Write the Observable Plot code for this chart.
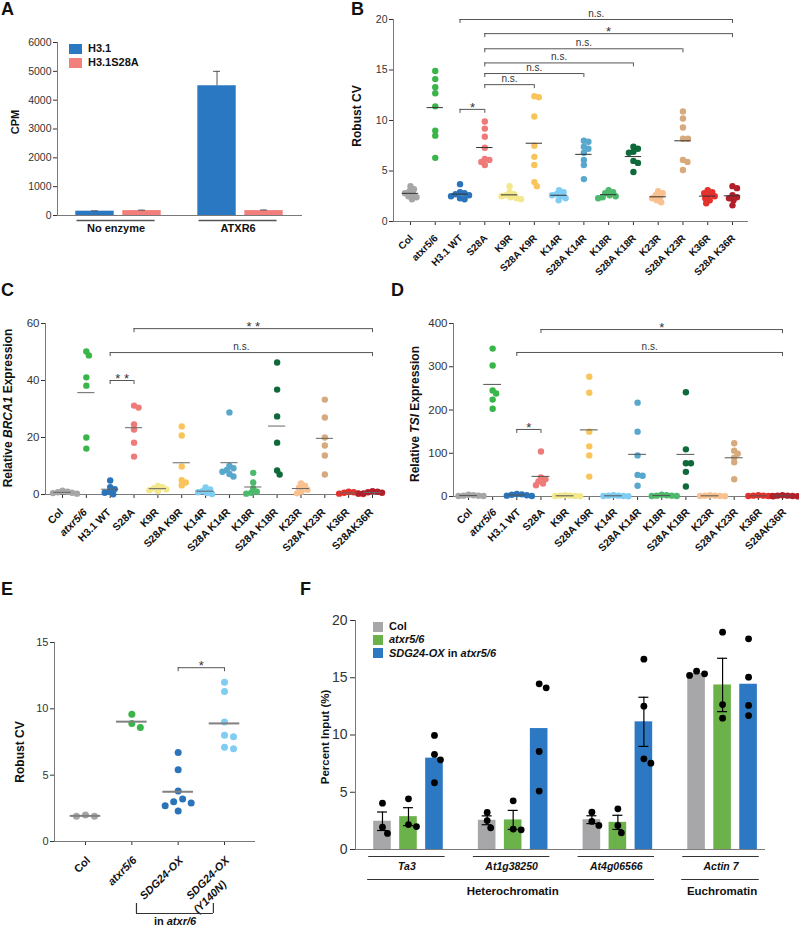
<!DOCTYPE html>
<html><head><meta charset="utf-8">
<script src="https://cdn.jsdelivr.net/npm/d3@7"></script>
<script src="https://cdn.jsdelivr.net/npm/@observablehq/plot@0.6"></script>
<style>
body{margin:0;background:#fff;}
#fig{position:relative;width:799px;height:926px;overflow:hidden;font-family:"Liberation Sans",Arial,Helvetica,sans-serif;color:#111;}
.pane{position:absolute;}
.pane svg{display:block;max-width:none;background:transparent;}
.plab{position:absolute;font-weight:bold;font-size:18px;line-height:1;}
.ylab{position:absolute;font-weight:bold;font-size:12px;white-space:nowrap;line-height:1;transform:translate(-50%,-50%) rotate(-90deg);}
.leg{position:absolute;font-weight:bold;font-size:11px;line-height:1;display:flex;align-items:center;white-space:nowrap;}
.leg .sw{display:inline-block;margin-right:6px;}
.note{position:absolute;font-weight:bold;font-size:11px;white-space:nowrap;line-height:1;transform:translateX(-50%);}
</style></head><body><div id="fig"></div>
<script>
// ================= DATA =================
// Panel A
const aGroups = ["No enzyme", "ATXR6"];
const aSeries = ["H3.1", "H3.1S28A"];
const aCPM = [[150, 170], [4500, 170]];
const aCPMerr = [[10, 15], [500, 20]];

// Panel B
const bCats = ["Col","atxr5/6","H3.1 WT","S28A","K9R","S28A K9R","K14R","S28A K14R","K18R","S28A K18R","K23R","S28A K23R","K36R","S28A K36R"];
const bRobustCV = [
  [3.5, 3.2, 3.0, 2.8, 2.7, 2.5, 2.4, 2.2],
  [14.9, 14.1, 13.3, 12.7, 11.4, 9.0, 8.5, 6.3],
  [3.7, 2.9, 2.8, 2.7, 2.6, 2.5, 2.3, 2.2],
  [9.9, 9.2, 8.4, 7.3, 6.2, 6.1, 5.9, 5.6],
  [3.5, 2.9, 2.7, 2.6, 2.5, 2.4, 2.3, 2.2],
  [12.4, 12.3, 10.4, 7.5, 6.4, 5.6, 3.9, 3.5],
  [3.1, 2.9, 2.7, 2.6, 2.5, 2.3, 2.1],
  [8.0, 7.9, 7.4, 7.2, 6.8, 6.1, 5.6, 4.2],
  [3.1, 2.9, 2.8, 2.6, 2.5, 2.4, 2.3],
  [7.4, 7.2, 6.9, 6.8, 6.0, 5.8, 4.9],
  [3.0, 2.8, 2.6, 2.4, 2.3, 2.1, 1.9],
  [10.9, 10.2, 9.3, 8.2, 8.2, 6.1, 5.9, 5.1],
  [3.1, 2.9, 2.8, 2.6, 2.5, 2.3, 2.1, 1.8],
  [3.5, 3.3, 2.6, 2.4, 2.3, 2.1, 1.6]
];
const bBracketFrom = [2, 3, 3, 3, 3, 3, 2];
const bBracketTo   = [13, 13, 11, 9, 7, 5, 3];
const bBracketY    = [20.0, 18.6, 17.1, 15.7, 14.65, 13.55, 11.1];
const bBracketText = ["n.s.", "*", "n.s.", "n.s.", "n.s.", "n.s.", "*"];

// Panels C and D
const cdCats = ["Col","atxr5/6","H3.1 WT","S28A","K9R","S28A K9R","K14R","S28A K14R","K18R","S28A K18R","K23R","S28A K23R","K36R","S28AK36R"];
const cBRCA1 = [
  [1.3, 1.0, 0.8, 0.6, 0.5, 0.3],
  [50.2, 48.8, 41.1, 38.2, 20.0, 16.1],
  [4.9, 2.6, 1.9, 1.0, 0.6, 0.1],
  [31.2, 30.5, 24.6, 22.8, 18.2, 13.3],
  [3.0, 2.6, 2.2, 1.8, 1.5, 1.2],
  [23.9, 20.7, 9.8, 5.0, 4.2, 3.2],
  [2.5, 1.8, 1.2, 0.8, 0.5, 0.2],
  [28.8, 10.0, 9.2, 8.6, 8.0, 7.2, 6.3],
  [7.6, 4.2, 2.1, 1.0, 0.6, 0.3],
  [46.3, 36.8, 27.4, 18.2, 8.4, 7.0],
  [3.9, 3.1, 2.4, 1.7, 1.0, 0.4],
  [33.3, 27.0, 20.0, 17.2, 13.7, 7.0],
  [1.0, 0.8, 0.6, 0.4, 0.3, 0.2],
  [1.2, 1.0, 0.8, 0.6, 0.4, 0.3]
];
const cBracketFrom = [3, 2, 2];
const cBracketTo   = [13, 13, 3];
const cBracketY    = [58.2, 49.8, 40.0];
const cBracketText = ["* *", "n.s.", "* *"];

const dTSI = [
  [4, 3, 2, 2, 1, 1],
  [342, 303, 245, 238, 224, 203],
  [6, 5, 4, 3, 2, 1],
  [104, 44, 40, 35, 30, 26],
  [3, 2, 2, 1, 1, 0.5],
  [277, 240, 150, 116, 95, 46],
  [3, 2, 2, 1, 1, 0.5],
  [217, 150, 95, 50, 48, 25],
  [4, 3, 2, 2, 1, 1],
  [241, 109, 77, 77, 57, 23],
  [3, 2, 2, 1, 1, 0.5],
  [123, 106, 99, 90, 79, 40],
  [3, 2, 2, 1, 1, 0.5],
  [3, 2, 2, 1, 1, 0.5]
];
const dBracketFrom = [3, 2, 2];
const dBracketTo   = [13, 13, 3];
const dBracketY    = [386, 333, 155];
const dBracketText = ["*", "n.s.", "*"];

// Panel E
const eCats = ["Col", "atxr5/6", "SDG24-OX", "SDG24-OX (Y140N)"];
const eRobustCV = [
  [2.0, 1.9, 1.9],
  [9.6, 8.9, 8.6],
  [6.7, 5.4, 3.8, 3.2, 3.0, 2.9, 2.7, 2.3],
  [12.0, 11.3, 9.0, 8.0, 7.9, 7.1, 7.0]
];
const eBracketFrom = [2];
const eBracketTo   = [3];
const eBracketY    = [13.1];
const eBracketText = ["*"];

// Panel F
const fGenes = ["Ta3", "At1g38250", "At4g06566", "Actin 7"];
const fSeries = ["Col", "atxr5/6", "SDG24-OX in atxr5/6"];
const fPercentInput = [
  [[4.05, 1.95, 1.40], [4.43, 2.18, 2.00], [9.96, 8.30, 7.83, 5.83]],
  [[3.23, 2.53, 1.89], [4.25, 1.78, 1.72], [14.47, 14.12, 8.56, 5.10]],
  [[3.26, 2.45, 2.10], [3.55, 2.10, 1.46], [16.62, 12.52, 7.92, 7.54]],
  [[15.57, 15.34, 15.20], [18.98, 12.66, 11.47], [18.40, 15.05, 12.58, 11.70]]
];
const fErrorShown = [[true, true, false], [true, true, false], [true, true, true], [false, true, false]];
const fRegions = ["Heterochromatin", "Euchromatin"];
const fRegionFirstGene = [0, 3];
const fRegionLastGene = [2, 3];

// ================= STYLE =================
const FONT = '"Liberation Sans", Arial, Helvetica, sans-serif';
const AX = "#7a7a7a";
const aColors = ["#2b78c2", "#f27f7b"];
const cvColors = ["#a6a6a6","#3ab54a","#2b74b9","#ef7b79","#f4e88c","#f9c55a","#7fcdf3","#58a7cd","#4cb96c","#0e6a3a","#f9c18f","#d6aa7c","#e4312b","#b21f2a"];
const eColors = ["#a6a6a6","#3ab54a","#2b74b9","#7fcdf3"];
const fColors = ["#a7a7a9","#6cb24a","#2d78c3"];

const fig = document.getElementById("fig");
function mount(svg, left, top) {
  const d = document.createElement("div");
  d.className = "pane"; d.style.left = left + "px"; d.style.top = top + "px";
  d.appendChild(svg); fig.appendChild(d);
}
function addHTML(cls, html, left, top, extra) {
  const d = document.createElement("div");
  d.className = cls; d.innerHTML = html;
  d.style.left = left + "px"; d.style.top = top + "px";
  if (extra) Object.assign(d.style, extra);
  fig.appendChild(d);
}
function dodge(vals, pxY, minD) {
  const order = d3.range(vals.length).sort((a, b) => vals[b] - vals[a]);
  const placed = [], off = new Array(vals.length).fill(0);
  for (const i of order) {
    const y = vals[i] * pxY;
    for (let k = 0; k < 600; k++) {
      const c = (k % 2 ? 1 : -1) * Math.ceil(k / 2) * 0.5;
      if (placed.every(p => (p.x - c) ** 2 + (p.y - y) ** 2 >= minD * minD)) {
        off[i] = c; placed.push({x: c, y}); break;
      }
    }
  }
  return off;
}

function dotPanel(o) {
  const iw = o.width - o.ml - o.mr, ih = o.height - o.mt - o.mb;
  const pxX = iw / (o.xd[1] - o.xd[0]), pxY = ih / (o.yd[1] - o.yd[0]);
  const pts = [];
  o.values.forEach((vals, i) => {
    const offs = dodge(vals, pxY, o.minD);
    vals.forEach((v, j) => pts.push({i, v, x: i + offs[j] / pxX}));
  });
  const means = o.values.map((vals, i) => ({i, m: d3.mean(vals)}));
  const tl = 4 / pxY;
  const br = o.bFrom.map((f, k) => ({f, t: o.bTo[k], y: o.bY[k], s: o.bText[k]}));
  const ends = br.flatMap(b => [{x: b.f, y: b.y}, {x: b.t, y: b.y}]);
  const labs = o.cats.map((c, i) => ({i, c, it: o.italic.includes(c)}));
  const line1 = d => o.twoLine ? d.c.split(" (")[0] : d.c;
  const lab = (rows, style) => Plot.text(rows, {x: "i", y: o.yd[0], text: line1, rotate: -45, textAnchor: "end",
    dx: o.ldx, dy: o.ldy, fontWeight: "bold", fontSize: o.lfs, fill: "#111", fontStyle: style});
  const marks = [
    Plot.ruleX([o.xd[0]], {stroke: AX}),
    Plot.ruleY([o.yd[0]], {stroke: AX}),
    Plot.dot(pts, {x: "x", y: "v", r: o.r, fill: d => o.colors[d.i]}),
    Plot.ruleY(means, {y: "m", x1: d => d.i - o.mh, x2: d => d.i + o.mh, stroke: o.ms, strokeWidth: o.mw}),
    Plot.ruleY(br, {y: "y", x1: "f", x2: "t", stroke: "#555"}),
    Plot.ruleX(ends, {x: "x", y1: "y", y2: d => d.y - tl, stroke: "#555"}),
    Plot.text(br.filter(b => b.s === "n.s."), {x: d => (d.f + d.t) / 2, y: "y", text: "s", dy: -6, fontSize: 10, fill: "#333"}),
    Plot.text(br.filter(b => b.s !== "n.s."), {x: d => (d.f + d.t) / 2, y: "y", text: "s", dy: -2, fontSize: 13, fill: "#333"}),
    lab(labs.filter(d => !d.it), "normal"),
    lab(labs.filter(d => d.it), "italic")
  ];
  if (o.twoLine) {
    marks.push(Plot.text(labs.filter(d => d.c.includes(" (")), {x: "i", y: o.yd[0], text: d => "(" + d.c.split(" (")[1],
      rotate: -45, textAnchor: "end", dx: o.ldx - 3, dy: o.ldy + 24, fontWeight: "bold", fontSize: o.lfs, fill: "#111", fontStyle: "italic"}));
  }
  if (o.extra) marks.push(...o.extra(pxX, pxY));
  return Plot.plot({
    width: o.width, height: o.height, marginLeft: o.ml, marginRight: o.mr, marginTop: o.mt, marginBottom: o.mb,
    style: {fontFamily: FONT, fontSize: o.tfs + "px", color: "#333", background: "transparent", overflow: "visible"},
    x: {domain: o.xd, ticks: d3.range(o.cats.length), tickFormat: () => "", tickSize: 4, label: null},
    y: {domain: o.yd, ticks: o.yTicks, tickFormat: d => String(d), tickSize: 4, tickPadding: 2, label: null},
    color: {type: "identity"},
    marks
  });
}

// ================= PANEL A =================
(function () {
  const W = 330, H = 240, ml = 57, mr = 28, mt = 42, mb = 25, xd = [-0.5, 1.508];
  const pxX = (W - ml - mr) / (xd[1] - xd[0]);
  const off = 23.5 / pxX, hw = 19.2 / pxX, cap = 3.5 / pxX;
  const rows = [];
  aGroups.forEach((g, gi) => aSeries.forEach((s, si) =>
    rows.push({gi, si, v: aCPM[gi][si], e: aCPMerr[gi][si], x: gi + (si ? off : -off)})));
  const svg = Plot.plot({
    width: W, height: H, marginLeft: ml, marginRight: mr, marginTop: mt, marginBottom: mb,
    style: {fontFamily: FONT, fontSize: "10.5px", color: "#333", background: "transparent", overflow: "visible"},
    x: {domain: xd, axis: null},
    y: {domain: [0, 6000], ticks: d3.range(0, 6001, 1000), tickFormat: d => String(d), tickSize: 4, tickPadding: 2, label: null},
    color: {type: "identity"},
    marks: [
      Plot.rectY(rows, {x1: d => d.x - hw, x2: d => d.x + hw, y1: 0, y2: "v", fill: d => aColors[d.si]}),
      Plot.ruleX(rows, {x: "x", y1: "v", y2: d => d.v + d.e, stroke: "#555"}),
      Plot.ruleY(rows, {y: d => d.v + d.e, x1: d => d.x - cap, x2: d => d.x + cap, stroke: "#555"}),
      Plot.ruleX([xd[0]], {stroke: AX}),
      Plot.ruleY([0], {stroke: AX}),
      Plot.ruleY(aGroups.map((g, gi) => gi), {y: 0, x1: d => d - 0.34, x2: d => d + 0.30, dy: 5, stroke: "#555", strokeWidth: 1.5}),
      Plot.text(aGroups, {x: (d, i) => i - 0.02, y: 0, text: d => d, dy: 13, fontWeight: "bold", fontSize: 11, fill: "#111"})
    ]
  });
  mount(svg, 0, 0);
  addHTML("leg", `<span class="sw" style="width:13px;height:10px;background:${aColors[0]}"></span><span>${aSeries[0]}</span>`, 69, 43);
  addHTML("leg", `<span class="sw" style="width:13px;height:10px;background:${aColors[1]}"></span><span>${aSeries[1]}</span>`, 69, 57);
  addHTML("ylab", "CPM", 15, 122, {fontSize: "11px"});
})();

// ================= PANEL B =================
mount(dotPanel({
  cats: bCats, values: bRobustCV, colors: cvColors, italic: [],
  width: 469, height: 300, ml: 63, mr: 51, mt: 19, mb: 79, xd: [-0.686, 13.646], yd: [0, 20], yTicks: [0, 5, 10, 15, 20],
  r: 3.2, minD: 4.6, mh: 0.33, ms: "#333", mw: 1, tfs: 10.5, lfs: 10, ldx: 1, ldy: 15,
  bFrom: bBracketFrom, bTo: bBracketTo, bY: bBracketY, bText: bBracketText
}), 330, 0);
addHTML("ylab", "Robust CV", 357, 116);

// ================= PANEL C =================
mount(dotPanel({
  cats: cdCats, values: cBRCA1, colors: cvColors, italic: ["atxr5/6"],
  width: 400, height: 320, ml: 45, mr: 20, mt: 23, mb: 126, xd: [-0.713, 13.335], yd: [0, 60], yTicks: [0, 20, 40, 60],
  r: 3.2, minD: 4.6, mh: 0.36, ms: "#666", mw: 1, tfs: 11.5, lfs: 10.5, ldx: -1, ldy: 16,
  bFrom: cBracketFrom, bTo: cBracketTo, bY: cBracketY, bText: cBracketText
}), 0, 300);
addHTML("ylab", "Relative <i>BRCA1</i> Expression", 8, 408);

// ================= PANEL D =================
mount(dotPanel({
  cats: cdCats, values: dTSI, colors: cvColors, italic: ["atxr5/6"],
  width: 399, height: 320, ml: 53, mr: 11, mt: 23, mb: 124, xd: [-0.621, 13.248], yd: [0, 400], yTicks: [0, 100, 200, 300, 400],
  r: 3.2, minD: 4.6, mh: 0.37, ms: "#555", mw: 1, tfs: 11.5, lfs: 10.5, ldx: 2, ldy: 14,
  bFrom: dBracketFrom, bTo: dBracketTo, bY: dBracketY, bText: dBracketText
}), 400, 300);
addHTML("ylab", "Relative <i>TSI</i> Expression", 415, 414);

// ================= PANEL E =================
mount(dotPanel({
  cats: eCats, values: eRobustCV, colors: eColors, italic: ["atxr5/6", "SDG24-OX", "SDG24-OX (Y140N)"], twoLine: true,
  width: 300, height: 306, ml: 54, mr: 45, mt: 22, mb: 85, xd: [-0.669, 3.669], yd: [0, 15], yTicks: [0, 5, 10, 15],
  r: 3.5, minD: 9, mh: 0.33, ms: "#808080", mw: 2, tfs: 11, lfs: 11, ldx: 3, ldy: 17,
  bFrom: eBracketFrom, bTo: eBracketTo, bY: eBracketY, bText: eBracketText,
  extra: (pxX, pxY) => [
    Plot.ruleY([0], {y: 0, x1: 1.10, x2: 2.76, dy: 72, stroke: "#333", strokeWidth: 1.2}),
    Plot.ruleX([1.10, 2.76], {x: d => d, y1: 0, y2: -10 / pxY, dy: 62, stroke: "#333", strokeWidth: 1.2})
  ]
}), 0, 620);
addHTML("ylab", "Robust CV", 20, 752);
addHTML("note", "in <i>atxr/6</i>", 175, 916);

// ================= PANEL F =================
(function () {
  const W = 499, H = 326, ml = 55, mr = 34, mt = 20, mb = 77, xd = [-0.506, 3.41];
  const pxX = (W - ml - mr) / (xd[1] - xd[0]);
  const pxY = (H - mt - mb) / 20;
  const off = 26 / pxX, hw = 8.8 / pxX, cap = 5 / pxX;
  const bars = [], pts = [];
  fGenes.forEach((g, gi) => fSeries.forEach((s, si) => {
    const vals = fPercentInput[gi][si];
    const m = d3.mean(vals), se = d3.deviation(vals) / Math.sqrt(vals.length);
    const x = gi + (si - 1) * off;
    bars.push({gi, si, m, se, x, show: fErrorShown[gi][si]});
    const offs = dodge(vals, pxY, 8);
    vals.forEach((v, j) => pts.push({v, x: x + offs[j] / pxX}));
  }));
  const eb = bars.filter(b => b.show);
  const regs = fRegions.map((r, k) => ({r, x1: fRegionFirstGene[k] - 0.39, x2: fRegionLastGene[k] + 0.35}));
  const svg = Plot.plot({
    width: W, height: H, marginLeft: ml, marginRight: mr, marginTop: mt, marginBottom: mb,
    style: {fontFamily: FONT, fontSize: "14px", color: "#333", background: "transparent", overflow: "visible"},
    x: {domain: xd, axis: null},
    y: {domain: [0, 20], ticks: [0, 5, 10, 15, 20], tickFormat: d => String(d), tickSize: 5, tickPadding: 3, label: null},
    color: {type: "identity"},
    marks: [
      Plot.rectY(bars, {x1: d => d.x - hw, x2: d => d.x + hw, y1: 0, y2: "m", fill: d => fColors[d.si]}),
      Plot.ruleX(eb, {x: "x", y1: d => d.m - d.se, y2: d => d.m + d.se, stroke: "#000", strokeWidth: 1.2}),
      Plot.ruleY(eb, {y: d => d.m + d.se, x1: d => d.x - cap, x2: d => d.x + cap, stroke: "#000", strokeWidth: 1.2}),
      Plot.ruleY(eb, {y: d => d.m - d.se, x1: d => d.x - cap, x2: d => d.x + cap, stroke: "#000", strokeWidth: 1.2}),
      Plot.dot(pts, {x: "x", y: "v", r: 3.4, fill: "#000"}),
      Plot.ruleX([xd[0]], {stroke: AX}),
      Plot.ruleY([0], {stroke: AX}),
      Plot.ruleY(fGenes.map((g, gi) => gi), {y: 0, x1: d => d - 0.38, x2: d => d + 0.35, dy: 7, stroke: "#333", strokeWidth: 1.2}),
      Plot.text(fGenes, {x: (d, i) => i - 0.015, y: 0, text: d => d, dy: 17, fontWeight: "bold", fontStyle: "italic", fontSize: 10.5, fill: "#111"}),
      Plot.ruleY(regs, {y: 0, x1: "x1", x2: "x2", dy: 30, stroke: "#333", strokeWidth: 1.2}),
      Plot.text(regs, {x: d => (d.x1 + d.x2) / 2 + 0.015, y: 0, text: "r", dy: 42, fontWeight: "bold", fontSize: 11.5, fill: "#111"})
    ]
  });
  mount(svg, 300, 600);
  const legTxt = ["Col", "<i>atxr5/6</i>", "<i>SDG24-OX</i> in <i>atxr5/6</i>"];
  legTxt.forEach((t, k) => addHTML("leg", `<span class="sw" style="width:10px;height:10px;background:${fColors[k]}"></span><span>${t}</span>`, 373, 621 + k * 13.4));
  addHTML("ylab", "Percent Input (%)", 326, 737, {fontSize: "11.5px"});
})();

// ================= PANEL LETTERS =================
[["A", 1, 0], ["B", 351, 0], ["C", 1, 281], ["D", 391, 281], ["E", 1, 580], ["F", 300, 580]]
  .forEach(([t, l, tp]) => addHTML("plab", t, l, tp));
</script></body></html>
